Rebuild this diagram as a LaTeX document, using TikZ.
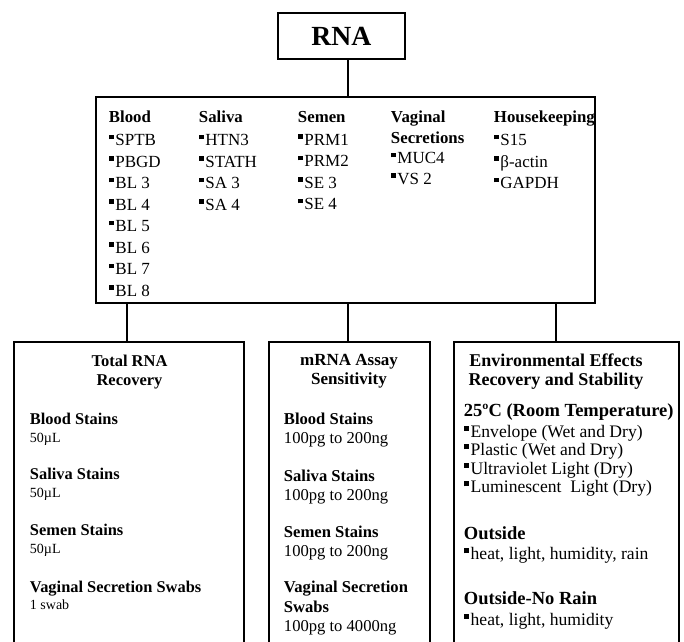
\documentclass[tikz,border=0pt]{standalone}
\usepackage{fontspec}
\setmainfont{Liberation Serif}
\usetikzlibrary{positioning}
\newcommand{\sqbul}{\raisebox{0.37em}{\rule{0.28em}{0.28em}}\hspace{0.1em}}
\newcommand{\hd}[1]{{\fontsize{16.8}{21.5}\selectfont\bfseries #1}}
\tikzset{
  box/.style={draw, line width=1.9pt, inner sep=0pt},
  col/.style={anchor=north west, inner sep=0pt, align=left},
  ttl/.style={anchor=north, inner sep=0pt, align=center}
}

\begin{document}
\begin{tikzpicture}[x=1pt, y=-1pt, line width=1.9pt]
  \useasboundingbox (0,0) rectangle (684,641);
  \clip (0,0) rectangle (684,641);

  % RNA
  \node[box, minimum width=127pt, minimum height=46pt, font=\fontsize{27.7}{30}\selectfont\bfseries] (rna) at (341.5,36) {RNA};

  % Markers
  \node[box, minimum width=499pt, minimum height=206pt] (markers) at (345.5,200) {};
  \node[col, font=\fontsize{17}{21.5}\selectfont] (blood) at (108,110) {\hd{Blood}\\[1.5pt]\sqbul SPTB\\\sqbul PBGD\\\sqbul BL 3\\\sqbul BL 4\\\sqbul BL 5\\\sqbul BL 6\\\sqbul BL 7\\\sqbul BL 8};
  \node[col, font=\fontsize{17}{21.5}\selectfont] (saliva) at (198,110) {\hd{Saliva}\\[1.5pt]\sqbul HTN3\\\sqbul STATH\\\sqbul SA 3\\\sqbul SA 4};
  \node[col, font=\fontsize{17}{21.5}\selectfont] (semen) at (297,110) {\hd{Semen}\\[1.5pt]\sqbul PRM1\\\sqbul PRM2\\\sqbul SE 3\\\sqbul SE 4};
  \node[col, font=\fontsize{17}{20.5}\selectfont] (vaginal) at (390,110) {\hd{Vaginal}\\\hd{Secretions}\\\sqbul MUC4\\\sqbul VS 2};
  \node[col, font=\fontsize{17}{21.5}\selectfont] (house) at (493,110) {\hd{Housekeeping}\\[1.5pt]\sqbul S15\\\sqbul β-actin\\\sqbul GAPDH};

  % Link RNA to markers
  \coordinate (rnalink) at ([xshift=6.5pt]rna.south);
  \draw (rnalink) -- (rnalink |- markers.north);

  % Total RNA recovery
  \node[box, minimum width=230pt, minimum height=358pt] (totalbox) at (129,521) {};
  \node[ttl, font=\fontsize{16.5}{19}\selectfont\bfseries] (totalttl) at (129.5,354) {Total RNA\\Recovery};
  \node[col, font=\fontsize{16.4}{18}\selectfont] (totblood) at (29,412) {\textbf{Blood Stains}\\{\fontsize{14}{18}\selectfont 50µL}};
  \node[col, font=\fontsize{16.4}{18}\selectfont] (totsaliva) at (29,467) {\textbf{Saliva Stains}\\{\fontsize{14}{18}\selectfont 50µL}};
  \node[col, font=\fontsize{16.4}{18}\selectfont] (totsemen) at (29,523) {\textbf{Semen Stains}\\{\fontsize{14}{18}\selectfont 50µL}};
  \node[col, font=\fontsize{16.4}{17}\selectfont] (totvag) at (29,580) {\textbf{Vaginal Secretion Swabs}\\{\fontsize{14}{17}\selectfont 1 swab}};

  % mRNA assay sensitivity
  \node[box, minimum width=161pt, minimum height=358pt] (assaybox) at (349.5,521) {};
  \node[ttl, font=\fontsize{17}{19}\selectfont\bfseries] (assayttl) at (349,353.5) {mRNA Assay\\Sensitivity};
  \node[col, font=\fontsize{16.6}{19.5}\selectfont] (asblood) at (283,411.7) {\textbf{Blood Stains}\\100pg to 200ng};
  \node[col, font=\fontsize{16.6}{18.5}\selectfont] (assaliva) at (283,469.5) {\textbf{Saliva Stains}\\100pg to 200ng};
  \node[col, font=\fontsize{16.6}{18.5}\selectfont] (assemen) at (283,525.5) {\textbf{Semen Stains}\\100pg to 200ng};
  \node[col, font=\fontsize{16.6}{19.5}\selectfont] (asvag) at (283,580.5) {\textbf{Vaginal Secretion}\\\textbf{Swabs}\\100pg to 4000ng};

  % Environmental effects
  \node[box, minimum width=225pt, minimum height=358pt] (envbox) at (566.5,521) {};
  \node[ttl, font=\fontsize{18}{19}\selectfont\bfseries] (envttl) at (556,353) {Environmental Effects\\Recovery and Stability};
  \node[col, font=\fontsize{17.6}{18.5}\selectfont] (envroom) at (463,402.5) {{\fontsize{18.5}{18.5}\selectfont\bfseries 25ºC (Room Temperature)}\\[2.5pt]\sqbul Envelope (Wet and Dry)\\\sqbul Plastic (Wet and Dry)\\\sqbul Ultraviolet Light (Dry)\\\sqbul Luminescent~ Light (Dry)};
  \node[col, font=\fontsize{17.6}{20.5}\selectfont] (envout) at (463,525.5) {{\fontsize{18.5}{18.5}\selectfont\bfseries Outside}\\\sqbul heat, light, humidity, rain};
  \node[col, font=\fontsize{17.6}{21}\selectfont] (envnorain) at (463,590.5) {{\fontsize{18.5}{18.5}\selectfont\bfseries Outside-No Rain}\\\sqbul heat, light, humidity};

  % Links from markers
  \coordinate (totlink) at ([xshift=-2pt]totalbox.north);
  \coordinate (aslink) at ([xshift=-1.5pt]assaybox.north);
  \coordinate (envlink) at ([xshift=-10.5pt]envbox.north);
  \draw (totlink) -- (totlink |- markers.south);
  \draw (aslink) -- (aslink |- markers.south);
  \draw (envlink) -- (envlink |- markers.south);
\end{tikzpicture}
\end{document}
